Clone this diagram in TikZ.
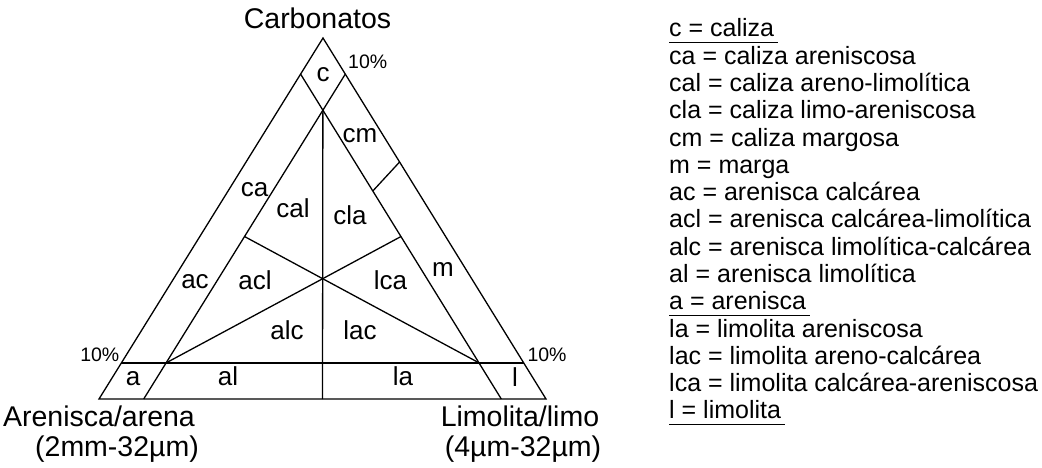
\documentclass[tikz,border=0pt]{standalone}
\usepackage{fontspec}
\setmainfont{Liberation Sans}
\usetikzlibrary{calc}
\begin{document}
\begin{tikzpicture}[x=1pt,y=-1pt,
  edge/.style={line width=1.3pt, line join=miter},
  region/.style={font=\fontsize{26}{29}\selectfont, anchor=base, inner sep=0},
  pct/.style={font=\fontsize{19.5}{22}\selectfont, inner sep=0},
  corner/.style={font=\fontsize{28.5}{31}\selectfont, inner sep=0, anchor=base},
  legend/.style={font=\fontsize{25}{28}\selectfont, anchor=base west, inner sep=0},
  uline/.style={line width=1pt}]
\useasboundingbox (0,0) rectangle (1042,467);
% vertices and ternary points
\coordinate (A) at (99,399);
\coordinate (L) at (546,399);
\coordinate (T) at (323,38);
\coordinate (P1) at (300.6,74.1);
\coordinate (P2) at (345.3,74.1);
\coordinate (Q) at (322.9,110.2);
\coordinate (B1) at (143.7,399);
\coordinate (B2) at (501.3,399);
\coordinate (Bm) at (322.5,399);
\coordinate (H1) at (121.4,362.9);
\coordinate (H2) at (523.7,362.9);
\coordinate (G) at (322.7,278.7);
\coordinate (K1) at (166.1,362.9);
\coordinate (K2) at (479.1,362.9);
\coordinate (M1) at (244.5,236.5);
\coordinate (M2) at (401,236.5);
\coordinate (R1) at (372.8,191);
\coordinate (R2) at (399.6,162);
% lines
\draw[edge] (A) -- (L) -- (T) -- cycle;
\draw[edge] (P1) -- (B2);
\draw[edge] (P2) -- (B1);
\draw[edge] (Q) -- (Bm);
\draw[edge] (H1) -- (H2);
\draw[edge] (G) -- (K1);
\draw[edge] (G) -- (K2);
\draw[edge] (G) -- (M1);
\draw[edge] (G) -- (M2);
\draw[edge] (R1) -- (R2);
% region labels
\node[region] (lc) at (323,81.7) {c};
\node[region] (lcm) at (360,142.7) {cm};
\node[region] (lca1) at (254.5,196.7) {ca};
\node[region] (lcal) at (293,217.3) {cal};
\node[region] (lcla) at (350,224.3) {cla};
\node[region] (lm) at (443,276.7) {m};
\node[region] (lac1) at (195,288) {ac};
\node[region] (lacl) at (255,289) {acl};
\node[region] (llca) at (390.5,289) {lca};
\node[region] (lalc) at (287,339) {alc};
\node[region] (llac) at (360,339) {lac};
\node[region] (la) at (133,385) {a};
\node[region] (lal) at (228,385) {al};
\node[region] (lla) at (403,385) {la};
\node[region] (ll) at (515,386) {l};
% percent labels
\node[pct, anchor=base west] (p1) at (348,68.3) {10\%};
\node[pct, anchor=base east] (p2) at (119.5,361.7) {10\%};
\node[pct, anchor=base west] (p3) at (527.3,361.7) {10\%};
% corner labels
\node[corner] (carb) at (317.5,28.3) {Carbonatos};
\node[corner] (aren) at (99,426) {Arenisca/arena};
\node[corner] (arens) at (117,456) {(2mm-32µm)};
\node[corner] (limo) at (520,426) {Limolita/limo};
\node[corner] (limos) at (523,456) {(4µm-32µm)};
% legend
\node[legend] (g1) at (669,36.7) {c = caliza};
\node[legend] (g2) at (669,64) {ca = caliza areniscosa};
\node[legend] (g3) at (669,91.3) {cal = caliza areno-limolítica};
\node[legend] (g4) at (669,118.6) {cla = caliza limo-areniscosa};
\node[legend] (g5) at (669,146) {cm = caliza margosa};
\node[legend] (g6) at (669,173.2) {m = marga};
\node[legend] (g7) at (669,200.5) {ac = arenisca calcárea};
\node[legend] (g8) at (669,227.8) {acl = arenisca calcárea-limolítica};
\node[legend] (g9) at (669,255) {alc = arenisca limolítica-calcárea};
\node[legend] (g10) at (669,282.4) {al = arenisca limolítica};
\node[legend] (g11) at (669,309.7) {a = arenisca};
\node[legend] (g12) at (669,337) {la = limolita areniscosa};
\node[legend] (g13) at (669,364.3) {lac = limolita areno-calcárea};
\node[legend] (g14) at (669,391.6) {lca = limolita calcárea-areniscosa};
\node[legend] (g15) at (669,418.9) {l = limolita};
\draw[uline] ($(g1.base west)+(0,6)$) -- ($(g1.base east)+(4,6)$);
\draw[uline] ($(g11.base west)+(0,6)$) -- ($(g11.base east)+(4,6)$);
\draw[uline] ($(g15.base west)+(0,6)$) -- ($(g15.base east)+(4,6)$);
\end{tikzpicture}
\end{document}
